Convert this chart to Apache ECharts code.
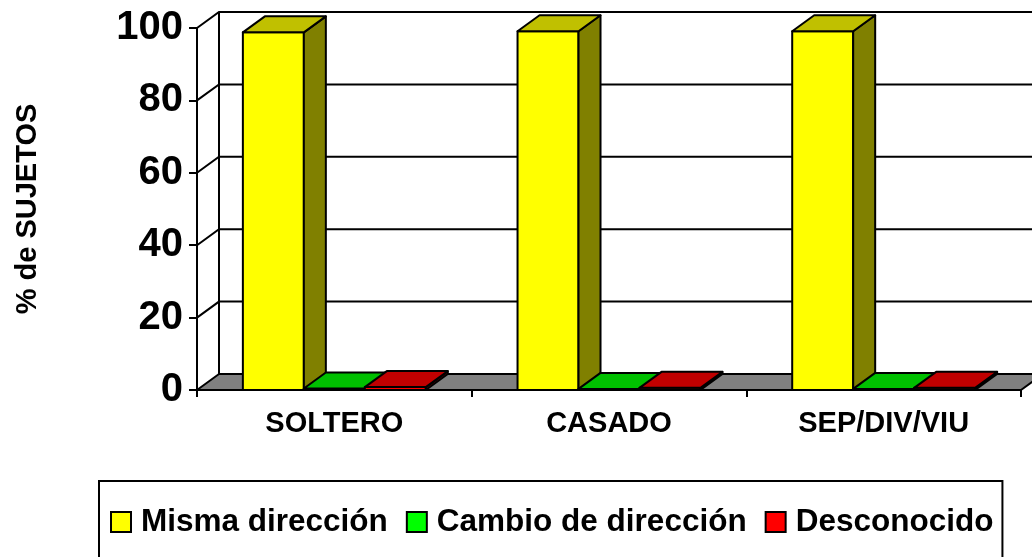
<!DOCTYPE html>
<html>
<head>
<meta charset="utf-8">
<script src="https://cdn.jsdelivr.net/npm/echarts@6/dist/echarts.min.js"></script>
<style>
html,body{margin:0;padding:0;background:#fff;}
#chart{width:1032px;height:557px;}
</style>
</head>
<body>
<div id="chart"></div>
<script>
// ---- data ----
var categories = ['SOLTERO', 'CASADO', 'SEP/DIV/VIU'];
var seriesNames = ['Misma dirección', 'Cambio de dirección', 'Desconocido'];
var mismaDireccion = [98.8, 99.1, 99.1];
var cambioDireccion = [0.4, 0.3, 0.3];
var desconocido = [0.8, 0.6, 0.6];
var yTicks = [0, 20, 40, 60, 80, 100];
var yAxisTitle = '% de SUJETOS';

// ---- styles ----
var FONT = 'Arial, "Liberation Sans", sans-serif';
var DX = 22, DY = -16;
var BAR_FRAC = 0.222;
var palettes = [
  {front: '#FFFF00', top: '#C0C000', side: '#808000'},
  {front: '#00FF00', top: '#00C000', side: '#008000'},
  {front: '#FF0000', top: '#C00000', side: '#800000'}
];

function st(fill) {
  return {fill: fill, stroke: '#000', lineWidth: 2, lineJoin: 'round'};
}

function wallItem(params, api) {
  var cs = params.coordSys;
  var x0 = cs.x, x1 = cs.x + cs.width;
  var v = api.value(1);
  var y = api.coord([0, v])[1];
  var children = [];
  if (params.dataIndex === 0) {
    var yTop = api.coord([0, yTicks[yTicks.length - 1]])[1];
    children.push({
      type: 'polygon',
      shape: {points: [[x0, y], [x1, y], [x1 + DX, y + DY], [x0 + DX, y + DY]]},
      style: st('#808080')
    });
    children.push({
      type: 'line',
      shape: {x1: x0 + DX, y1: y + DY, x2: x0 + DX, y2: yTop + DY},
      style: {stroke: '#000', lineWidth: 2}
    });
  } else {
    children.push({
      type: 'polyline',
      shape: {points: [[x0, y], [x0 + DX, y + DY], [x1 + DX + 40, y + DY]]},
      style: {stroke: '#000', lineWidth: 2, fill: null}
    });
  }
  return {type: 'group', children: children};
}

function barItemFactory(sIdx) {
  var pal = palettes[sIdx];
  return function (params, api) {
    var cat = api.value(0);
    var top = api.coord([cat, api.value(1)]);
    var base = api.coord([cat, 0]);
    var band = api.size([1, 0])[0];
    var w = band * BAR_FRAC;
    var xL = top[0] + (sIdx - 1) * w - w / 2;
    var xR = xL + w;
    var yT = top[1], yB = base[1];
    return {
      type: 'group',
      children: [
        {type: 'polygon', shape: {points: [[xL, yT], [xR, yT], [xR, yB], [xL, yB]]}, style: st(pal.front)},
        {type: 'polygon', shape: {points: [[xR, yT], [xR + DX, yT + DY], [xR + DX, yB + DY], [xR, yB]]}, style: st(pal.side)},
        {type: 'polygon', shape: {points: [[xL, yT], [xR, yT], [xR + DX, yT + DY], [xL + DX, yT + DY]]}, style: st(pal.top)}
      ]
    };
  };
}

var values = [mismaDireccion, cambioDireccion, desconocido];
var series = [{
  type: 'custom',
  name: '__walls',
  renderItem: wallItem,
  data: yTicks.map(function (v) { return [0, v]; }),
  silent: true,
  z: 1
}];
values.forEach(function (arr, i) {
  series.push({
    type: 'custom',
    name: seriesNames[i],
    renderItem: barItemFactory(i),
    itemStyle: {color: palettes[i].front},
    data: arr.map(function (v, c) { return [c, v]; }),
    z: 2
  });
});

var chart = echarts.init(document.getElementById('chart'), null, {renderer: 'canvas'});
chart.setOption({
  animation: false,
  backgroundColor: '#fff',
  grid: {left: 197, right: 11, top: 28, bottom: 167, containLabel: false, outerBoundsMode: 'none'},
  xAxis: {
    type: 'category',
    data: categories,
    boundaryGap: true,
    axisLine: {show: true, lineStyle: {color: '#000', width: 2}},
    axisTick: {show: true, length: 7, interval: 0, lineStyle: {color: '#000', width: 2}},
    axisLabel: {color: '#000', fontFamily: FONT, fontWeight: 'bold', fontSize: 29, margin: 19, interval: 0},
    splitLine: {show: false},
    z: 5
  },
  yAxis: {
    type: 'value',
    min: 0, max: 100, interval: 20,
    name: yAxisTitle,
    nameLocation: 'middle',
    nameRotate: 90,
    nameGap: 155,
    nameTextStyle: {color: '#000', fontFamily: FONT, fontWeight: 'bold', fontSize: 29},
    axisLine: {show: true, lineStyle: {color: '#000', width: 2}},
    axisTick: {show: true, length: 8, lineStyle: {color: '#000', width: 2}},
    axisLabel: {color: '#000', fontFamily: FONT, fontWeight: 'bold', fontSize: 40, margin: 14},
    splitLine: {show: false},
    z: 5
  },
  legend: {
    data: seriesNames,
    left: 99,
    top: 481,
    padding: [25, 9, 40, 11],
    borderColor: '#000',
    borderWidth: 2,
    itemWidth: 20,
    itemHeight: 20,
    itemGap: 18,
    icon: 'rect',
    itemStyle: {borderColor: '#000', borderWidth: 2},
    textStyle: {color: '#000', fontFamily: FONT, fontWeight: 'bold', fontSize: 31.5, padding: [0, 0, 0, 5]},
    selectedMode: false
  },
  series: series
});
</script>
</body>
</html>
